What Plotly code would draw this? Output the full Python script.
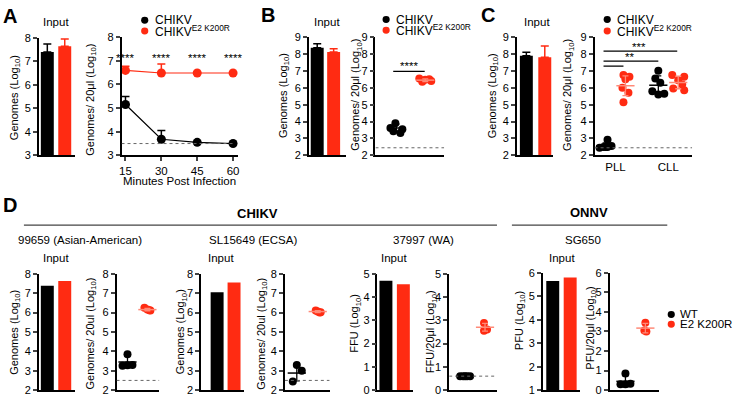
import plotly.graph_objects as go

W, H = 736, 400
BLACK = "#000000"
RED = "#FF2B12"
FONT = "Liberation Sans, Arial, sans-serif"
TICK = 11
TITLE = 11

# ---------------- data ----------------
A_input = [7.40, 7.65]
A_input_err = [0.35, 0.31]
A_minutes = [15, 30, 45, 60]
A_chikv = [5.15, 3.68, 3.55, 3.50]
A_chikv_err = [0.34, 0.37, 0.0, 0.0]
A_k200r = [6.59, 6.48, 6.48, 6.48]
A_k200r_err = [0.18, 0.38, 0.0, 0.0]
A_lod = 3.5
A_sig = ["****", "****", "****", "****"]

B_input = [8.37, 8.11]
B_input_err = [0.23, 0.20]
B_chikv = [3.90, 3.62, 3.55, 3.42, 3.32]
B_k200r = [6.55, 6.47, 6.40, 6.36, 6.50]
B_mean = [3.62, 6.45]
B_sd = [0.22, 0.08]
B_lod = 2.45

C_input = [7.90, 7.80]
C_input_err = [0.20, 0.67]
C_sites = ["PLL", "CLL"]
C_pll_chikv = [2.45, 2.50, 2.50, 2.55, 2.50, 2.92]
C_pll_k200r = [6.75, 6.65, 6.50, 6.00, 5.70, 5.15]
C_cll_chikv = [7.00, 6.55, 6.30, 5.80, 5.65, 5.60]
C_cll_k200r = [6.75, 6.65, 6.45, 6.20, 5.95, 5.85]
C_mean = [2.57, 6.12, 6.15, 6.31]
C_sd = [0.17, 0.58, 0.55, 0.37]
C_lod = 2.45

D_strains = ["99659 (Asian-American)", "SL15649 (ECSA)", "37997 (WA)", "SG650"]
D1_input = [7.38, 7.62]
D1_wt = [3.85, 3.25, 3.28, 3.30]
D1_k200r = [6.25, 6.15, 6.10, 6.12]
D1_mean = [3.45, 6.15]
D1_sd = [0.30, 0.06]
D2_input = [7.05, 7.55]
D2_wt = [2.45, 3.30, 3.00]
D2_k200r = [6.10, 6.00, 6.05, 6.02]
D2_mean = [2.88, 6.05]
D2_sd = [0.40, 0.05]
D3_input = [4.70, 4.55]
D3_wt = [0.60, 0.60, 0.60, 0.60, 0.60]
D3_k200r = [2.88, 2.60, 2.55]
D3_mean = [0.60, 2.70]
D3_sd = [0.0, 0.17]
D4_input = [5.65, 5.80]
D4_wt = [0.85, 0.30, 0.30, 0.33]
D4_k200r = [3.45, 3.05, 3.00]
D4_mean = [0.45, 3.17]
D4_sd = [0.28, 0.24]
D_lod = [2.5, 2.5, 0.6]

# ---------------- helpers ----------------
layout = dict(width=W, height=H, margin=dict(l=0, r=0, t=0, b=0),
              paper_bgcolor="white", plot_bgcolor="white", showlegend=False,
              font=dict(family=FONT, size=11, color="black"))
annotations, shapes, traces = [], [], []


def axes(n, px0, px1, pytop, pybot, xr, yr, xticks=None, xlabels=None):
    s = "" if n == 1 else str(n)
    xa = dict(domain=[px0 / W, px1 / W], range=xr, anchor="y" + s, showline=True,
              linecolor="black", linewidth=1.5, showgrid=False, zeroline=False,
              fixedrange=True)
    if xticks:
        xa.update(ticks="outside", tickvals=xticks, ticklen=4, tickwidth=1.5,
                  tickfont=dict(size=TICK + 0.5), showticklabels=True)
        if xlabels:
            xa.update(ticktext=xlabels, ticks="")
    else:
        xa.update(ticks="", showticklabels=False)
    ya = dict(domain=[1 - pybot / H, 1 - pytop / H], range=yr, anchor="x" + s,
              showline=True, linecolor="black", linewidth=1.5, showgrid=False,
              zeroline=False, ticks="outside", dtick=1, tick0=0, ticklen=4,
              tickwidth=1.5, tickfont=dict(size=TICK), fixedrange=True)
    layout["xaxis" + s] = xa
    layout["yaxis" + s] = ya
    return "x" + s, "y" + s


def bar_panel(n, px0, px1, pytop, pybot, yr, c0, c1, vals, errs=None):
    unit = c1 - c0
    xa, ya = axes(n, px0, px1, pytop, pybot, [(px0 - c0) / unit, (px1 - c0) / unit], yr)
    for i, (v, col) in enumerate(zip(vals, [BLACK, RED])):
        if errs:
            eb = dict(type="data", symmetric=False, array=[errs[i]], arrayminus=[0],
                      color=col, thickness=1.5, width=4)
        else:
            eb = dict(visible=False)
        traces.append(go.Bar(x=[i], y=[v], width=13 / unit, marker=dict(color=col, line=dict(width=0)),
                             error_y=eb, xaxis=xa, yaxis=ya))
    return xa, ya


def dots(xa, ya, center, unit, vals, jit_px, col, mean, sd, size=8):
    xs = [center + j / unit for j in jit_px]
    traces.append(go.Scatter(x=xs, y=vals, mode="markers", marker=dict(color=col, size=size, line=dict(width=0)),
                             xaxis=xa, yaxis=ya, cliponaxis=False))
    mcol = col if col == BLACK else "#ff8a78"
    traces.append(go.Scatter(x=[center], y=[mean], mode="markers",
                             marker=dict(symbol="line-ew", size=13, color=mcol, line=dict(color=mcol, width=1.5)),
                             error_y=dict(type="data", array=[sd], color=mcol, thickness=1.3, width=3,
                                          visible=sd > 0),
                             xaxis=xa, yaxis=ya, cliponaxis=False))


def text(x, y, s, size=11, bold=False, angle=0, xanchor="center", yanchor="middle", xref="paper", yref="paper"):
    if xref == "paper":
        x = x / W
    if yref == "paper":
        y = 1 - y / H
    annotations.append(dict(x=x, y=y, xref=xref, yref=yref, text=("<b>%s</b>" % s) if bold else s,
                            showarrow=False, font=dict(size=size, family=FONT, color="black"),
                            textangle=angle, xanchor=xanchor, yanchor=yanchor))


def hline(xa, ya, x0, x1, y, dash="solid", color="black", width=1.2):
    shapes.append(dict(type="line", xref=xa, yref=ya, x0=x0, x1=x1, y0=y, y1=y,
                       line=dict(color=color, width=width, dash=dash)))


def dot_legend(cx, cy, col, r=3.6):
    shapes.append(dict(type="circle", xref="paper", yref="paper",
                       x0=(cx - r) / W, x1=(cx + r) / W, y0=1 - (cy + r) / H, y1=1 - (cy - r) / H,
                       fillcolor=col, line=dict(width=0)))


G10 = "Genomes (Log<sub>10</sub>)"
G20 = "Genomes/ 20\u03bcl (Log<sub>10</sub>)"
G20u = "Genomes/ 20ul (Log<sub>10</sub>)"
LOD = dict(dash="dot", color="#666", width=1)
LEG = 12

# ---------------- Panel A ----------------
bar_panel(1, 37, 73, 33, 154, [3, 8], 45.5, 63, A_input, A_input_err)
xa, ya = axes(2, 120, 237, 32, 154, [15 - 4 / 2.4, 60 + 5 / 2.4], [3, 8], A_minutes)
hline(xa, ya, 15 - 4 / 2.4, 60.5, A_lod, **LOD)
for vals, errs, col in [(A_chikv, A_chikv_err, BLACK), (A_k200r, A_k200r_err, RED)]:
    traces.append(go.Scatter(x=A_minutes, y=vals, mode="lines+markers",
                             line=dict(color=col, width=1.2), marker=dict(color=col, size=9),
                             error_y=dict(type="data", symmetric=False, array=errs,
                                          arrayminus=[0] * len(errs), color=col, thickness=1.5, width=4),
                             xaxis=xa, yaxis=ya, cliponaxis=False))
for m, s in zip(A_minutes, A_sig):
    text(m, 7.1, s, size=11.5, xref=xa, yref=ya)
text(54, 17, "Input", size=11.5)
text(13, 94, G10, size=TITLE, angle=-90)
text(89, 97, G20, size=TITLE, angle=-90)
text(178, 180, "Minutes Post Infection", size=11.5)
dot_legend(143.3, 14.7, BLACK)
dot_legend(143.3, 25.7, RED)
text(151.5, 14.5, "CHIKV", size=LEG, xanchor="left")
text(151.5, 25.5, "CHIKV<sup>E2 K200R</sup>", size=LEG, xanchor="left")
text(8, 10, "A", size=20, bold=True)

# ---------------- Panel B ----------------
bar_panel(3, 308, 345, 32, 154, [2, 9], 316.5, 333, B_input, B_input_err)
bu = 29.0
xa, ya = axes(4, 375, 444, 32, 154, [(375 - 396) / bu, (444 - 396) / bu], [2, 9])
hline(xa, ya, (375 - 396) / bu, (444 - 396) / bu, B_lod, **LOD)
dots(xa, ya, 0, bu, B_chikv, [-1, -6, 6, -3, 4], BLACK, B_mean[0], B_sd[0])
dots(xa, ya, 1, bu, B_k200r, [-6, 0, 6, -3, 4], RED, B_mean[1], B_sd[1])
hline(xa, ya, -0.11, 0.98, 6.97, width=1.3)
text(0.42, 7.28, "****", size=11.5, xref=xa, yref=ya)
text(326, 17, "Input", size=11.5)
text(283, 92, G10, size=TITLE, angle=-90)
text(356, 92, G20, size=TITLE, angle=-90)
dot_legend(385.7, 14, BLACK)
dot_legend(385.7, 25, RED)
text(394, 14, "CHIKV", size=LEG, xanchor="left")
text(394, 25, "CHIKV<sup>E2 K200R</sup>", size=LEG, xanchor="left")
text(267.5, 9, "B", size=20, bold=True)

# ---------------- Panel C ----------------
bar_panel(5, 517, 553, 32, 154, [2, 9], 526.5, 545, C_input, C_input_err)
cu = 53.0
xa, ya = axes(6, 595, 693, 32, 154, [(595 - 616) / cu, (693 - 616) / cu], [2, 9], [0, 1], C_sites)
hline(xa, ya, (595 - 616) / cu, (693 - 616) / cu, C_lod, **LOD)
off = 10 / cu
dots(xa, ya, 0 - off, cu, C_pll_chikv, [-6, -2, 2, 6, 0, 2], BLACK, C_mean[0], C_sd[0])
dots(xa, ya, 0 + off, cu, C_pll_k200r, [-2, 4, 0, -3, 3, -2], RED, C_mean[1], C_sd[1])
dots(xa, ya, 1 - off, cu, C_cll_chikv, [0, -3, 2, -6, 6, 0], BLACK, C_mean[2], C_sd[2])
dots(xa, ya, 1 + off, cu, C_cll_k200r, [-6, 6, 0, 4, -5, 6], RED, C_mean[3], C_sd[3])
hline(xa, ya, (604 - 616) / cu, (678 - 616) / cu, 8.17, width=1.3)
hline(xa, ya, (604 - 616) / cu, (659 - 616) / cu, 7.57, width=1.3)
hline(xa, ya, (604 - 616) / cu, (624 - 616) / cu, 7.28, width=1.3)
text((640 - 616) / cu, 8.42, "***", size=11.5, xref=xa, yref=ya)
text((630 - 616) / cu, 7.82, "**", size=11.5, xref=xa, yref=ya)
text(537, 17, "Input", size=11.5)
text(493, 92, G10, size=TITLE, angle=-90)
text(569, 92, G20, size=TITLE, angle=-90)
dot_legend(607.7, 14, BLACK)
dot_legend(607.7, 25.7, RED)
text(616, 14, "CHIKV", size=LEG, xanchor="left")
text(616, 25.5, "CHIKV<sup>E2 K200R</sup>", size=LEG, xanchor="left")
text(487.5, 9, "C", size=20, bold=True)

# ---------------- Panel D ----------------
BOT = 396
text(8, 205, "D", size=20, bold=True)
text(257, 214, "CHIKV", size=13, bold=True)
text(589, 213, "ONNV", size=13, bold=True)
shapes.append(dict(type="line", xref="paper", yref="paper", x0=22 / W, x1=497 / W,
                   y0=1 - 226 / H, y1=1 - 226 / H, line=dict(color="#444", width=1.2)))
shapes.append(dict(type="line", xref="paper", yref="paper", x0=512 / W, x1=668 / W,
                   y0=1 - 226 / H, y1=1 - 226 / H, line=dict(color="#444", width=1.2)))
for cx, s in zip([78, 252, 423, 583], D_strains):
    text(cx, 241, s, size=11.5)
for cx in [54, 220, 394, 562]:
    text(cx, 260, "Input", size=11.5)

# D1
bar_panel(7, 37, 73, 276, BOT, [2, 8], 45.5, 63, D1_input)
u = 20.0
xa, ya = axes(8, 115, 158, 276, BOT, [(115 - 126) / u, (158 - 126) / u], [2, 8])
hline(xa, ya, (115 - 126) / u, (158 - 126) / u, D_lod[0], **LOD)
dots(xa, ya, 0, u, D1_wt, [0, -5, 0, 5], BLACK, D1_mean[0], D1_sd[0])
dots(xa, ya, 1, u, D1_k200r, [-3, 0, 3, 2], RED, D1_mean[1], D1_sd[1])
text(13, 336, G10, size=TITLE, angle=-90)
text(89, 338, G20u, size=TITLE, angle=-90)

# D2
bar_panel(9, 200, 243, 276, BOT, [2, 8], 216, 233, D2_input)
u = 21.0
xa, ya = axes(10, 284, 329, 276, BOT, [(284 - 296) / u, (329 - 296) / u], [2, 8])
hline(xa, ya, (284 - 296) / u, (329 - 296) / u, D_lod[1], **LOD)
dots(xa, ya, 0, u, D2_wt, [-4, 0, 5], BLACK, D2_mean[0], D2_sd[0])
dots(xa, ya, 1, u, D2_k200r, [-2, 2, 0, 3], RED, D2_mean[1], D2_sd[1])
text(180, 336, G10, size=TITLE, angle=-90)
text(261, 338, G20u, size=TITLE, angle=-90)

# D3
bar_panel(11, 377, 413, 276, BOT, [0, 5], 385.5, 403, D3_input)
u = 20.0
xa, ya = axes(12, 449, 497, 276, BOT, [(449 - 465) / u, (497 - 465) / u], [0, 5])
hline(xa, ya, (449 - 465) / u, (497 - 465) / u, D_lod[2], **LOD)
dots(xa, ya, 0, u, D3_wt, [-5, -2, 0, 2, 5], BLACK, D3_mean[0], D3_sd[0])
dots(xa, ya, 1, u, D3_k200r, [-1, 2, -1], RED, D3_mean[1], D3_sd[1])
text(355, 327, "FFU (Log<sub>10</sub>)", size=TITLE, angle=-90)
text(431, 336, "FFU/20\u03bcl (Log<sub>10</sub>)", size=TITLE, angle=-90)

# D4
bar_panel(13, 543, 580, 275, BOT, [1, 6], 553, 570.5, D4_input)
u = 20.0
xa, ya = axes(14, 610, 660, 275, BOT, [(610 - 626) / u, (660 - 626) / u], [0, 6])
dots(xa, ya, 0, u, D4_wt, [0, -5, 0, 5], BLACK, D4_mean[0], D4_sd[0])
dots(xa, ya, 1, u, D4_k200r, [0, -1, 1], RED, D4_mean[1], D4_sd[1])
text(520, 324, "PFU (Log<sub>10</sub>)", size=TITLE, angle=-90)
text(591, 332, "PFU/20\u03bcl (Log<sub>10</sub>)", size=TITLE, angle=-90)

dot_legend(672, 318, BLACK)
dot_legend(672, 328, RED)
text(679, 318, "WT", size=11.5, xanchor="left")
text(679, 328, "E2 K200R", size=11.5, xanchor="left")

layout["annotations"] = annotations
layout["shapes"] = shapes
fig = go.Figure(data=traces, layout=layout)
fig.write_html("out.html", config={"displayModeBar": False},
               post_script="document.body.style.margin='0px';document.body.style.padding='0px';"
                           "document.body.style.overflow='hidden';")
